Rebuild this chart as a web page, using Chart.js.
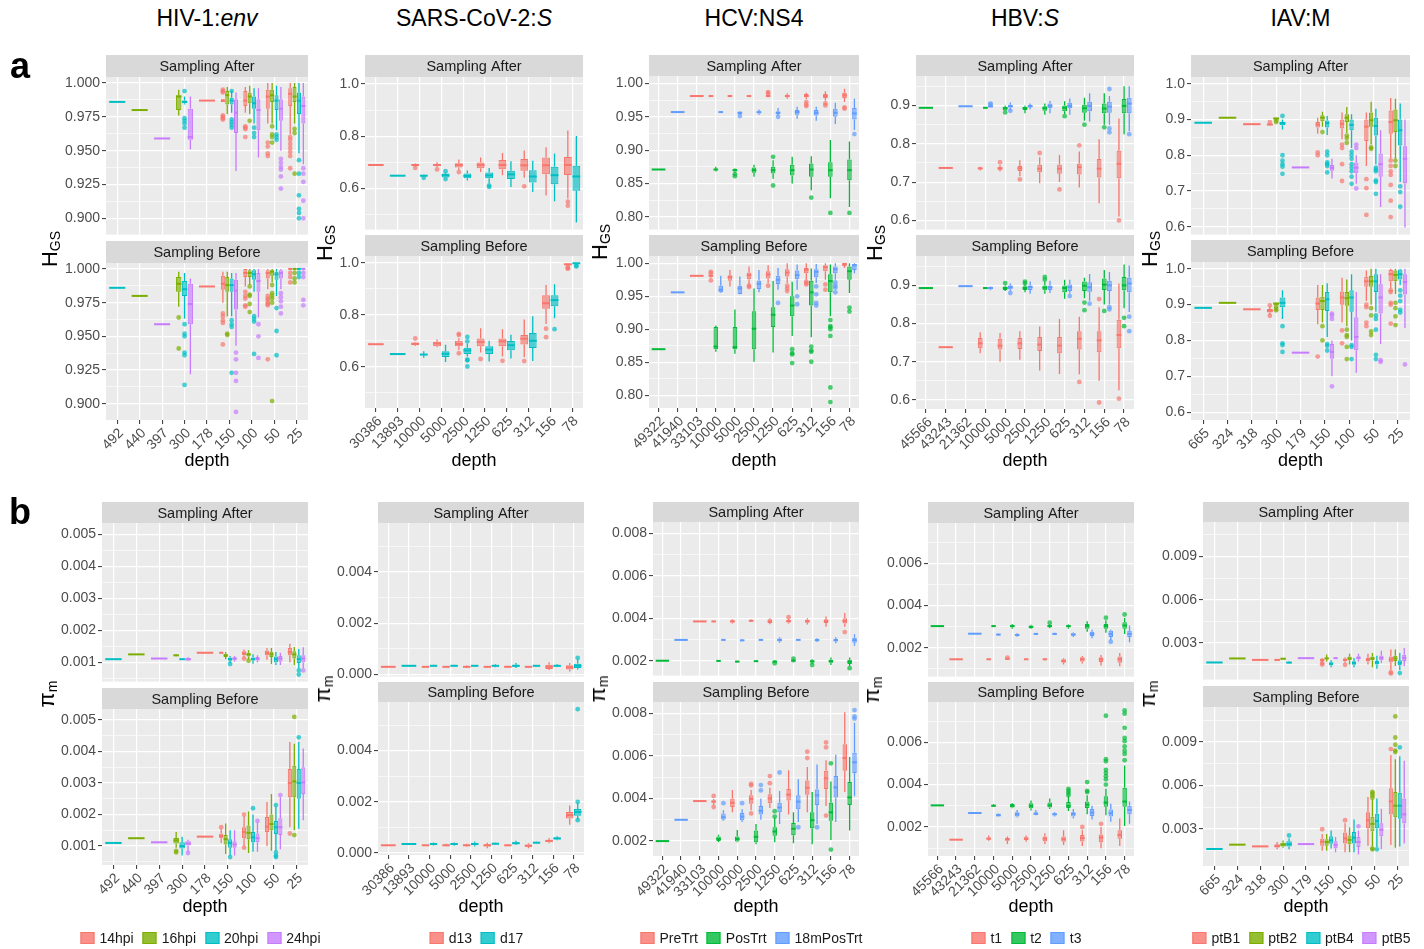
<!DOCTYPE html>
<html>
<head>
<meta charset="utf-8">
<script src="https://cdn.jsdelivr.net/npm/chart.js@4.4.1/dist/chart.umd.min.js"></script>
<style>
  body { margin: 0; background: #fff; }
  #fig { position: relative; width: 1424px; height: 949px; overflow: hidden; font-family: "Liberation Sans", Arial, sans-serif; color: #000; }
  .lbl { position: absolute; white-space: nowrap; transform: translate(-50%, -50%); }
  .ytitle { position: absolute; white-space: nowrap; font-size: 22px; transform: translate(-50%, -50%) rotate(-90deg); }
  .ytitle sub { font-size: 14px; vertical-align: -3px; }
  .legend { position: absolute; top: 938px; transform: translate(-50%, -50%); white-space: nowrap; font-size: 14px; color: #1a1a1a; display: flex; align-items: center; }
  .key { display: inline-block; width: 14px; height: 12px; margin-right: 5px; box-sizing: border-box; }
  .legend .txt { margin-right: 9px; }
</style>
</head>
<body>
<div id="fig"></div>
<script>
// box entries: [lower whisker, q1, median, q3, upper whisker, ...outliers]; [v] = single value

// ---------- HIV-1:env ----------
const hivDepth = ['492', '440', '397', '300', '178', '150', '100', '50', '25'];
const hivGroups = ['14hpi', '16hpi', '20hpi', '24hpi'];
const hivHgsTicks = [0.900, 0.925, 0.950, 0.975, 1.000];
const hivPiTicks = [0.001, 0.002, 0.003, 0.004, 0.005];
const hivHgsAfter = [
  [null, null, null, null, [0.987], [0.986, 0.986, 0.987, 0.988, 0.988, 0.995, 0.994, 0.993, 0.976, 0.975, 0.974, 0.973], [0.978, 0.983, 0.987, 0.994, 0.997, 0.968, 0.967, 0.966, 0.960], [0.970, 0.981, 0.990, 0.995, 1.0, 0.956, 0.953, 0.948, 0.946], [0.962, 0.983, 0.992, 0.996, 1.0, 0.960, 0.958, 0.955, 0.952, 0.949, 0.946, 0.937]],
  [null, [0.980], null, [0.976, 0.980, 0.990, 0.991, 0.995], null, [0.977, 0.984, 0.991, 0.994, 0.997], [0.977, 0.985, 0.990, 0.993, 0.998, 0.972], [0.970, 0.986, 0.991, 0.995, 1.0, 0.968, 0.962, 0.960, 0.956], [0.970, 0.986, 0.990, 0.997, 1.0, 0.966, 0.963, 0.933]],
  [[0.986], null, null, [0.984, 0.985, 0.986, 0.987, 0.990, 0.994, 0.974, 0.972, 0.970, 0.967], null, [0.978, 0.984, 0.987, 0.989, 0.994, 0.994, 0.973, 0.971, 0.969, 0.967], [0.970, 0.981, 0.985, 0.990, 0.996, 0.967, 0.963, 0.960], [0.965, 0.980, 0.987, 0.991, 0.998, 0.962, 0.960, 0.958], [0.948, 0.977, 0.987, 0.993, 1.0, 0.943, 0.933, 0.917, 0.907, 0.904, 0.900]],
  [null, null, [0.959], [0.951, 0.958, 0.960, 0.981, 0.990], null, [0.935, 0.963, 0.978, 0.988, 0.993], [0.945, 0.965, 0.980, 0.988, 0.996], [0.950, 0.972, 0.981, 0.988, 0.997, 0.944, 0.941, 0.938, 0.936, 0.931, 0.922], [0.940, 0.970, 0.983, 0.990, 1.0, 0.937, 0.933, 0.927, 0.913, 0.900]]
];
const hivHgsBefore = [
  [null, null, null, null, [0.987], [0.975, 0.9845, 0.989, 0.995, 0.998, 0.967, 0.965, 0.962, 0.960, 0.944], [0.987, 0.994, 0.997, 1.0, 1.0, 0.983, 0.980, 0.978, 0.973, 0.972], [0.985, 0.993, 0.997, 0.999, 1.0, 0.980, 0.978, 0.977, 0.975, 0.974, 0.973, 0.933], [0.999, 1.0, 1.0, 1.0, 1.0, 0.997, 0.994, 0.990]],
  [null, [0.980], null, [0.972, 0.983, 0.989, 0.994, 0.998, 0.964, 0.941], null, [0.965, 0.983, 0.988, 0.994, 0.998, 0.952, 0.951], [0.988, 0.994, 0.997, 0.999, 1.0, 0.987, 0.981, 0.980, 0.974, 0.968], [0.990, 0.995, 0.998, 0.999, 1.0, 0.988, 0.982, 0.980, 0.978, 0.975, 0.902], [0.999, 1.0, 1.0, 1.0, 1.0, 0.997, 0.993, 0.990]],
  [[0.986], null, null, [0.963, 0.980, 0.985, 0.991, 0.997, 0.959, 0.952, 0.950, 0.938, 0.936, 0.914], null, [0.965, 0.983, 0.988, 0.993, 0.997, 0.962, 0.959, 0.957, 0.923], [0.983, 0.992, 0.996, 0.999, 1.0, 0.965, 0.963, 0.961, 0.937], [0.980, 0.992, 0.996, 0.998, 1.0, 0.971, 0.954, 0.936], [0.999, 1.0, 1.0, 1.0, 1.0, 0.997, 0.994]],
  [null, null, [0.959], [0.922, 0.959, 0.974, 0.989, 0.993], null, [0.943, 0.970, 0.984, 0.992, 0.997, 0.938, 0.933, 0.923, 0.917, 0.894], [0.964, 0.983, 0.991, 0.997, 1.0, 0.959, 0.950, 0.934], [0.985, 0.993, 0.997, 0.999, 1.0, 0.982, 0.979, 0.976, 0.972, 0.967], [0.999, 1.0, 1.0, 1.0, 1.0, 0.997, 0.994, 0.977, 0.973]]
];
const hivPiAfter = [
  [null, null, null, null, [0.00130], [0.00128, 0.00129, 0.00130, 0.00131, 0.00132], [0.00115, 0.00122, 0.00128, 0.00135, 0.00140, 0.00112], [0.00108, 0.00122, 0.00130, 0.00137, 0.00145], [0.00100, 0.00122, 0.00132, 0.00145, 0.00158]],
  [null, [0.00125], null, [0.00119, 0.00120, 0.00122, 0.00124, 0.00125], null, [0.00110, 0.00117, 0.00122, 0.00127, 0.00132], [0.00110, 0.00118, 0.00125, 0.00130, 0.00138, 0.00105], [0.00095, 0.00117, 0.00125, 0.00133, 0.00145], [0.00092, 0.00112, 0.00125, 0.00135, 0.00148]],
  [[0.00110], null, null, [0.00108, 0.00109, 0.00110, 0.00111, 0.00112], null, [0.00098, 0.00105, 0.00110, 0.00115, 0.00120, 0.00095], [0.00096, 0.00106, 0.00110, 0.00115, 0.00125], [0.00092, 0.00100, 0.00110, 0.00118, 0.00132], [0.00080, 0.00098, 0.00110, 0.00122, 0.00142, 0.00075, 0.00062]],
  [null, null, [0.00112], [0.00104, 0.00106, 0.00110, 0.00113, 0.00116], null, [0.00102, 0.00107, 0.00112, 0.00116, 0.00120], [0.00100, 0.00106, 0.00111, 0.00117, 0.00122], [0.00092, 0.00102, 0.00112, 0.00120, 0.00130], [0.00082, 0.00100, 0.00112, 0.00122, 0.00147, 0.00075]]
];
const hivPiBefore = [
  [null, null, null, null, [0.00130], [0.00110, 0.00125, 0.00132, 0.00140, 0.00155, 0.00160], [0.00100, 0.00125, 0.00145, 0.00160, 0.00195, 0.00200, 0.00095], [0.00100, 0.00145, 0.00162, 0.00192, 0.00240], [0.00160, 0.00255, 0.00300, 0.00345, 0.00430, 0.00140]],
  [null, [0.00125], null, [0.00095, 0.00108, 0.00118, 0.00126, 0.00145, 0.00085, 0.00080], null, [0.00075, 0.00105, 0.00122, 0.00135, 0.00172], [0.00078, 0.00122, 0.00142, 0.00165, 0.00210], [0.00085, 0.00150, 0.00170, 0.00200, 0.00265], [0.00150, 0.00255, 0.00305, 0.00355, 0.00425, 0.00510, 0.00135]],
  [[0.00110], null, null, [0.00070, 0.00092, 0.00100, 0.00112, 0.00130], null, [0.00070, 0.00095, 0.00110, 0.00122, 0.00150, 0.00065], [0.00082, 0.00112, 0.00128, 0.00145, 0.00200, 0.00220], [0.00085, 0.00138, 0.00160, 0.00180, 0.00225, 0.00230, 0.00080, 0.00070, 0.00065], [0.00155, 0.00250, 0.00300, 0.00345, 0.00430, 0.00445]],
  [null, null, [0.00112], [0.00082, 0.00102, 0.00108, 0.00115, 0.00120, 0.00078], null, [0.00070, 0.00095, 0.00105, 0.00115, 0.00150], [0.00082, 0.00112, 0.00125, 0.00140, 0.00175, 0.00180], [0.00090, 0.00135, 0.00160, 0.00188, 0.00255, 0.00262], [0.00182, 0.00265, 0.00302, 0.00350, 0.00410]]
];

// ---------- SARS-CoV-2:S ----------
const sarsDepth = ['30386', '13893', '10000', '5000', '2500', '1250', '625', '312', '156', '78'];
const sarsGroups = ['d13', 'd17'];
const sarsHgsTicks = [0.6, 0.8, 1.0];
const sarsPiTicks = [0.000, 0.002, 0.004];
const sarsHgsAfter = [
  [[0.689], null, [0.683, 0.687, 0.689, 0.691, 0.695, 0.678], [0.680, 0.685, 0.689, 0.692, 0.700, 0.672], [0.670, 0.679, 0.689, 0.696, 0.710, 0.662], [0.662, 0.677, 0.689, 0.699, 0.718], [0.650, 0.673, 0.689, 0.708, 0.735], [0.640, 0.667, 0.688, 0.712, 0.745, 0.607], [0.572, 0.654, 0.688, 0.718, 0.757], [0.560, 0.651, 0.689, 0.720, 0.822, 0.548, 0.533]],
  [null, [0.648], [0.644, 0.646, 0.648, 0.650, 0.652, 0.640], [0.640, 0.641, 0.650, 0.656, 0.660, 0.665, 0.635], [0.630, 0.638, 0.647, 0.656, 0.668], [0.618, 0.638, 0.649, 0.660, 0.678, 0.610, 0.605], [0.605, 0.635, 0.653, 0.667, 0.703], [0.585, 0.622, 0.645, 0.669, 0.705], [0.550, 0.615, 0.650, 0.682, 0.733], [0.468, 0.590, 0.645, 0.686, 0.800]]
];
const sarsHgsBefore = [
  [[0.687], null, [0.680, 0.683, 0.688, 0.694, 0.695, 0.709], [0.675, 0.679, 0.690, 0.696, 0.705], [0.665, 0.679, 0.688, 0.700, 0.710, 0.727, 0.722, 0.652], [0.655, 0.679, 0.695, 0.709, 0.748, 0.630], [0.640, 0.679, 0.698, 0.709, 0.745, 0.623], [0.637, 0.686, 0.708, 0.722, 0.782, 0.622], [0.765, 0.824, 0.845, 0.876, 0.915, 0.747, 0.714], [0.990, 0.993, 0.995, 0.997, 0.999, 0.985, 0.980, 0.978]],
  [null, [0.649], [0.635, 0.644, 0.647, 0.650, 0.660], [0.618, 0.638, 0.650, 0.660, 0.685], [0.640, 0.649, 0.663, 0.673, 0.690, 0.715, 0.698, 0.627, 0.625, 0.601], [0.620, 0.649, 0.666, 0.679, 0.700], [0.632, 0.664, 0.683, 0.699, 0.723], [0.622, 0.672, 0.700, 0.730, 0.795], [0.787, 0.833, 0.857, 0.876, 0.918, 0.745], [0.995, 0.997, 0.999, 1.0, 1.0, 0.990, 0.987]]
];
const sarsPiAfter = [
  [[0.00030], null, [0.00028, 0.00029, 0.00030, 0.00031, 0.00032], [0.00028, 0.00029, 0.00030, 0.00031, 0.00032], [0.00025, 0.00028, 0.00030, 0.00032, 0.00035], [0.00027, 0.00029, 0.00030, 0.00031, 0.00033], [0.00026, 0.00028, 0.00030, 0.00032, 0.00034], [0.00027, 0.00029, 0.00030, 0.00031, 0.00033], [0.00018, 0.00022, 0.00030, 0.00038, 0.00048], [0.00012, 0.00020, 0.00028, 0.00036, 0.00045]],
  [null, [0.00034], [0.00031, 0.00032, 0.00034, 0.00036, 0.00038], [0.00031, 0.00032, 0.00034, 0.00036, 0.00038], [0.00031, 0.00032, 0.00034, 0.00035, 0.00037], [0.00028, 0.00031, 0.00034, 0.00037, 0.00040], [0.00025, 0.00030, 0.00034, 0.00038, 0.00045], [0.00031, 0.00032, 0.00034, 0.00035, 0.00037], [0.00029, 0.00031, 0.00034, 0.00036, 0.00040], [0.00020, 0.00025, 0.00034, 0.00042, 0.00060, 0.00065]]
];
const sarsPiBefore = [
  [[0.00030], null, [0.00028, 0.00029, 0.00030, 0.00031, 0.00032], [0.00026, 0.00028, 0.00030, 0.00033, 0.00036], [0.00025, 0.00027, 0.00030, 0.00033, 0.00036], [0.00018, 0.00025, 0.00030, 0.00034, 0.00040], [0.00027, 0.00029, 0.00030, 0.00031, 0.00033], [0.00018, 0.00024, 0.00028, 0.00033, 0.00038], [0.00038, 0.00042, 0.00047, 0.00052, 0.00058], [0.00110, 0.00135, 0.00148, 0.00160, 0.00185]],
  [null, [0.00035], [0.00029, 0.00031, 0.00035, 0.00038, 0.00041], [0.00029, 0.00032, 0.00035, 0.00038, 0.00041], [0.00025, 0.00030, 0.00035, 0.00040, 0.00045], [0.00032, 0.00034, 0.00036, 0.00038, 0.00040], [0.00032, 0.00035, 0.00038, 0.00042, 0.00048], [0.00036, 0.00038, 0.00040, 0.00042, 0.00044], [0.00050, 0.00053, 0.00057, 0.00060, 0.00065], [0.00130, 0.00145, 0.00160, 0.00172, 0.00195, 0.00200, 0.00128, 0.00562]]
];

// ---------- HCV:NS4 ----------
const hcvDepth = ['49322', '41940', '33103', '10000', '5000', '2500', '1250', '625', '312', '156', '78'];
const hcvGroups = ['PreTrt', 'PosTrt', '18mPosTrt'];
const hcvHgsTicks = [0.80, 0.85, 0.90, 0.95, 1.00];
const hcvPiTicks = [0.002, 0.004, 0.006, 0.008];
const hcvHgsAfter = [
  [null, null, [0.981], [0.981], [0.981], [0.981], [0.979, 0.980, 0.981, 0.983, 0.984, 0.987, 0.985], [0.977, 0.979, 0.981, 0.983, 0.985], [0.976, 0.979, 0.981, 0.984, 0.986, 0.972, 0.968, 0.966], [0.974, 0.978, 0.981, 0.984, 0.988, 0.970, 0.967], [0.972, 0.978, 0.982, 0.986, 0.992, 0.964, 0.962]],
  [[0.871], null, null, [0.868, 0.870, 0.871, 0.872, 0.875], [0.866, 0.868, 0.870, 0.872, 0.873, 0.864, 0.861], [0.860, 0.866, 0.870, 0.874, 0.878], [0.857, 0.865, 0.870, 0.875, 0.885, 0.890, 0.847], [0.850, 0.862, 0.870, 0.878, 0.890], [0.840, 0.860, 0.871, 0.880, 0.891, 0.829], [0.828, 0.860, 0.870, 0.882, 0.915, 0.806], [0.815, 0.855, 0.870, 0.886, 0.913, 0.806]],
  [null, [0.957], null, [0.956, 0.956, 0.957, 0.957, 0.958], [0.953, 0.954, 0.956, 0.957, 0.958, 0.951], [0.953, 0.955, 0.957, 0.958, 0.961], [0.952, 0.954, 0.956, 0.958, 0.963, 0.950], [0.947, 0.953, 0.957, 0.960, 0.965], [0.944, 0.952, 0.956, 0.960, 0.965], [0.939, 0.950, 0.956, 0.962, 0.971], [0.930, 0.946, 0.955, 0.963, 0.977, 0.924]]
];
const hcvHgsBefore = [
  [null, null, [0.981], [0.978, 0.980, 0.981, 0.982, 0.983, 0.987, 0.985, 0.974], [0.965, 0.9735, 0.979, 0.982, 0.990], [0.968, 0.976, 0.982, 0.986, 0.995, 0.966, 0.964], [0.970, 0.977, 0.983, 0.988, 0.997, 0.966], [0.970, 0.980, 0.986, 0.991, 1.0, 0.966, 0.962, 0.958], [0.975, 0.985, 0.990, 0.993, 1.0, 0.972, 0.970, 0.968], [0.975, 0.988, 0.994, 0.997, 1.0, 0.968, 0.960], [0.993, 0.996, 0.999, 1.0, 1.0]],
  [[0.870], null, null, [0.866, 0.870, 0.874, 0.9035, 0.906], [0.863, 0.870, 0.873, 0.9035, 0.930], [0.851, 0.870, 0.901, 0.9275, 0.962], [0.865, 0.9035, 0.922, 0.9335, 0.973], [0.890, 0.920, 0.936, 0.950, 0.972, 0.870, 0.864, 0.862, 0.849], [0.888, 0.936, 0.956, 0.9735, 0.992, 0.874, 0.868, 0.866, 0.851], [0.920, 0.956, 0.973, 0.9835, 0.998, 0.914, 0.905, 0.903, 0.900, 0.890, 0.812, 0.790], [0.955, 0.975, 0.988, 0.995, 1.0, 0.933, 0.927]],
  [null, [0.956], null, [0.955, 0.956, 0.960, 0.966, 0.981], [0.953, 0.9535, 0.962, 0.966, 0.980], [0.956, 0.961, 0.969, 0.9735, 0.990], [0.960, 0.9685, 0.975, 0.981, 0.993, 0.940], [0.960, 0.976, 0.982, 0.989, 0.998, 0.950, 0.938], [0.970, 0.979, 0.987, 0.991, 0.999, 0.965, 0.953, 0.940, 0.936], [0.975, 0.985, 0.991, 0.995, 1.0, 0.971, 0.966, 0.963, 0.956], [0.985, 0.990, 0.997, 0.999, 1.0]]
];
const hcvPiAfter = [
  [null, null, [0.00385], [0.00383, 0.00384, 0.00385, 0.00386, 0.00387], [0.00375, 0.00380, 0.00385, 0.00390, 0.00395], [0.00382, 0.00385, 0.00388, 0.00392, 0.00394], [0.00372, 0.00378, 0.00385, 0.00395, 0.00400], [0.00375, 0.00380, 0.00386, 0.00392, 0.00398, 0.00405], [0.00370, 0.00379, 0.00386, 0.00393, 0.00400], [0.00360, 0.00378, 0.00386, 0.00395, 0.00408], [0.00360, 0.00375, 0.00387, 0.00400, 0.00425, 0.00335]],
  [[0.00200], null, null, [0.00197, 0.00198, 0.00199, 0.00200, 0.00201], [0.00192, 0.00194, 0.00196, 0.00198, 0.00200], [0.00196, 0.00197, 0.00198, 0.00199, 0.00200], [0.00190, 0.00192, 0.00196, 0.00200, 0.00203, 0.00188], [0.00192, 0.00196, 0.00200, 0.00205, 0.00208, 0.00210], [0.00185, 0.00192, 0.00197, 0.00202, 0.00207, 0.00180], [0.00180, 0.00190, 0.00198, 0.00205, 0.00215], [0.00175, 0.00185, 0.00195, 0.00205, 0.00215, 0.00165]],
  [null, [0.00298], null, [0.00296, 0.00297, 0.00298, 0.00299, 0.00300], [0.00292, 0.00294, 0.00296, 0.00298, 0.00300], [0.00296, 0.00297, 0.00298, 0.00299, 0.00300], [0.00285, 0.00290, 0.00298, 0.00305, 0.00310], [0.00294, 0.00296, 0.00298, 0.00300, 0.00302], [0.00288, 0.00292, 0.00297, 0.00302, 0.00306], [0.00282, 0.00290, 0.00297, 0.00302, 0.00310], [0.00270, 0.00285, 0.00297, 0.00308, 0.00325]]
];
const hcvPiBefore = [
  [null, null, [0.00388], [0.00370, 0.00380, 0.00386, 0.00390, 0.00398, 0.00412, 0.00360], [0.00335, 0.00360, 0.00380, 0.00400, 0.00440], [0.00345, 0.00375, 0.00398, 0.00415, 0.00440, 0.00468, 0.00462, 0.00330], [0.00355, 0.00378, 0.00400, 0.00420, 0.00450, 0.00505, 0.00472], [0.00325, 0.00390, 0.00418, 0.00445, 0.00532], [0.00335, 0.00418, 0.00450, 0.00485, 0.00548, 0.00620, 0.00590], [0.00365, 0.00445, 0.00495, 0.00530, 0.00580, 0.00663, 0.00640, 0.00320], [0.00430, 0.00530, 0.00590, 0.00655, 0.00805]],
  [[0.00200], null, null, [0.00195, 0.00200, 0.00210, 0.00222, 0.00230], [0.00195, 0.00198, 0.00210, 0.00222, 0.00252], [0.00185, 0.00195, 0.00220, 0.00250, 0.00280], [0.00195, 0.00225, 0.00245, 0.00265, 0.00310, 0.00340, 0.00315], [0.00190, 0.00228, 0.00258, 0.00285, 0.00335], [0.00185, 0.00260, 0.00298, 0.00335, 0.00430], [0.00205, 0.00295, 0.00335, 0.00380, 0.00480, 0.00565, 0.00160], [0.00250, 0.00370, 0.00405, 0.00478, 0.00595]],
  [null, [0.00300], null, [0.00295, 0.00300, 0.00312, 0.00330, 0.00345, 0.00378], [0.00290, 0.00298, 0.00315, 0.00332, 0.00350, 0.00378], [0.00300, 0.00325, 0.00342, 0.00365, 0.00400, 0.00463, 0.00438], [0.00280, 0.00335, 0.00358, 0.00380, 0.00435, 0.00522], [0.00290, 0.00350, 0.00385, 0.00415, 0.00490, 0.00265], [0.00280, 0.00370, 0.00415, 0.00442, 0.00560, 0.00265], [0.00290, 0.00405, 0.00452, 0.00505, 0.00605], [0.00410, 0.00520, 0.00570, 0.00615, 0.00755, 0.00815, 0.00785, 0.00775]]
];

// ---------- HBV:S ----------
const hbvDepth = ['45566', '43243', '21362', '10000', '5000', '2500', '1250', '625', '312', '156', '78'];
const hbvGroups = ['t1', 't2', 't3'];
const hbvHgsTicks = [0.6, 0.7, 0.8, 0.9];
const hbvPiTicks = [0.002, 0.004, 0.006];
const hbvHgsAfter = [
  [null, [0.737], null, [0.730, 0.733, 0.736, 0.738, 0.740], [0.728, 0.731, 0.736, 0.740, 0.745, 0.752], [0.715, 0.729, 0.736, 0.742, 0.757, 0.707], [0.697, 0.726, 0.735, 0.745, 0.765, 0.776], [0.700, 0.722, 0.735, 0.745, 0.771, 0.681], [0.686, 0.720, 0.739, 0.748, 0.780, 0.796], [0.645, 0.712, 0.735, 0.760, 0.812], [0.610, 0.710, 0.748, 0.782, 0.866, 0.600]],
  [[0.894], null, null, [0.892, 0.893, 0.894, 0.895, 0.896], [0.886, 0.887, 0.893, 0.897, 0.900, 0.882], [0.880, 0.888, 0.893, 0.897, 0.900], [0.876, 0.886, 0.893, 0.898, 0.905], [0.878, 0.885, 0.894, 0.900, 0.911, 0.872], [0.860, 0.881, 0.893, 0.902, 0.920, 0.850], [0.850, 0.880, 0.892, 0.905, 0.932, 0.843], [0.825, 0.880, 0.899, 0.917, 0.950]],
  [null, null, [0.898], [0.894, 0.895, 0.898, 0.900, 0.902, 0.905, 0.903], [0.888, 0.895, 0.898, 0.902, 0.908, 0.886], [0.890, 0.896, 0.898, 0.901, 0.905], [0.880, 0.893, 0.899, 0.905, 0.912], [0.876, 0.893, 0.899, 0.907, 0.918], [0.858, 0.885, 0.899, 0.910, 0.932], [0.850, 0.881, 0.897, 0.910, 0.925, 0.943, 0.840, 0.830], [0.833, 0.880, 0.905, 0.920, 0.950, 0.825]]
];
const hbvHgsBefore = [
  [null, [0.738], null, [0.722, 0.735, 0.748, 0.762, 0.777], [0.700, 0.732, 0.742, 0.760, 0.775], [0.705, 0.733, 0.748, 0.762, 0.780], [0.677, 0.728, 0.745, 0.765, 0.792], [0.668, 0.722, 0.742, 0.765, 0.812], [0.667, 0.732, 0.760, 0.780, 0.818, 0.647], [0.650, 0.725, 0.756, 0.780, 0.843, 0.864, 0.593], [0.625, 0.735, 0.770, 0.810, 0.905, 0.603]],
  [[0.893], null, null, [0.891, 0.892, 0.893, 0.894, 0.895], [0.885, 0.888, 0.893, 0.897, 0.900, 0.906], [0.882, 0.888, 0.893, 0.898, 0.902, 0.910, 0.905], [0.878, 0.887, 0.894, 0.900, 0.910, 0.922, 0.915], [0.865, 0.882, 0.893, 0.900, 0.915], [0.866, 0.885, 0.899, 0.910, 0.920, 0.855, 0.835], [0.850, 0.888, 0.902, 0.918, 0.940, 0.833], [0.840, 0.887, 0.900, 0.922, 0.955, 0.815, 0.793]],
  [null, null, [0.898], [0.887, 0.890, 0.893, 0.896, 0.897], [0.885, 0.890, 0.896, 0.900, 0.905, 0.880], [0.878, 0.888, 0.896, 0.900, 0.910], [0.880, 0.888, 0.895, 0.900, 0.912], [0.878, 0.885, 0.895, 0.902, 0.915, 0.872], [0.860, 0.883, 0.895, 0.908, 0.930, 0.852], [0.850, 0.885, 0.900, 0.912, 0.935, 0.843, 0.837], [0.830, 0.882, 0.905, 0.920, 0.952, 0.818, 0.780]]
];
const hbvPiAfter = [
  [null, [0.00145], null, [0.00143, 0.00144, 0.00145, 0.00146, 0.00147], [0.00142, 0.00144, 0.00147, 0.00149, 0.00150, 0.00153], [0.00142, 0.00144, 0.00145, 0.00146, 0.00148], [0.00140, 0.00143, 0.00145, 0.00147, 0.00149], [0.00120, 0.00128, 0.00137, 0.00145, 0.00150], [0.00125, 0.00135, 0.00145, 0.00155, 0.00160], [0.00115, 0.00132, 0.00145, 0.00155, 0.00165], [0.00112, 0.00128, 0.00145, 0.00158, 0.00175]],
  [[0.00302], null, null, [0.00300, 0.00301, 0.00302, 0.00303, 0.00304], [0.00290, 0.00296, 0.00302, 0.00308, 0.00312], [0.00288, 0.00292, 0.00298, 0.00305, 0.00308], [0.00292, 0.00298, 0.00302, 0.00308, 0.00312, 0.00318], [0.00290, 0.00296, 0.00302, 0.00306, 0.00310], [0.00275, 0.00290, 0.00302, 0.00312, 0.00325], [0.00270, 0.00290, 0.00302, 0.00312, 0.00330, 0.00342], [0.00265, 0.00290, 0.00305, 0.00320, 0.00340, 0.00357]],
  [null, null, [0.00266], [0.00258, 0.00260, 0.00262, 0.00264, 0.00266], [0.00252, 0.00255, 0.00260, 0.00265, 0.00268], [0.00262, 0.00264, 0.00265, 0.00266, 0.00268], [0.00260, 0.00263, 0.00265, 0.00267, 0.00270], [0.00250, 0.00256, 0.00262, 0.00268, 0.00272], [0.00245, 0.00255, 0.00265, 0.00275, 0.00285], [0.00235, 0.00250, 0.00265, 0.00280, 0.00285, 0.00228], [0.00225, 0.00250, 0.00265, 0.00280, 0.00305]]
];
const hbvPiBefore = [
  [null, [0.00140], null, [0.00135, 0.00140, 0.00145, 0.00150, 0.00160], [0.00120, 0.00135, 0.00142, 0.00148, 0.00155], [0.00130, 0.00138, 0.00145, 0.00152, 0.00160], [0.00120, 0.00133, 0.00145, 0.00155, 0.00170], [0.00115, 0.00130, 0.00142, 0.00155, 0.00185], [0.00110, 0.00132, 0.00148, 0.00162, 0.00185, 0.00200], [0.00100, 0.00128, 0.00150, 0.00165, 0.00200, 0.00215], [0.00110, 0.00145, 0.00162, 0.00185, 0.00240]],
  [[0.00302], null, null, [0.00295, 0.00297, 0.00300, 0.00305, 0.00308], [0.00288, 0.00292, 0.00300, 0.00308, 0.00312], [0.00278, 0.00288, 0.00300, 0.00312, 0.00325], [0.00285, 0.00292, 0.00302, 0.00315, 0.00335], [0.00275, 0.00290, 0.00300, 0.00318, 0.00345, 0.00380, 0.00370, 0.00360, 0.00350], [0.00260, 0.00290, 0.00305, 0.00320, 0.00350, 0.00412, 0.00370, 0.00365], [0.00255, 0.00295, 0.00315, 0.00345, 0.00380, 0.00725, 0.00520, 0.00510, 0.00470, 0.00455, 0.00440, 0.00425, 0.00400], [0.00205, 0.00295, 0.00320, 0.00385, 0.00490, 0.00750, 0.00735, 0.00668, 0.00620, 0.00605, 0.00580, 0.00560, 0.00545, 0.00515]],
  [null, null, [0.00266], [0.00248, 0.00250, 0.00256, 0.00262, 0.00265], [0.00245, 0.00250, 0.00260, 0.00270, 0.00280], [0.00255, 0.00258, 0.00262, 0.00270, 0.00280], [0.00250, 0.00255, 0.00260, 0.00265, 0.00270], [0.00240, 0.00250, 0.00262, 0.00270, 0.00285], [0.00235, 0.00252, 0.00268, 0.00285, 0.00300], [0.00225, 0.00250, 0.00265, 0.00282, 0.00310], [0.00215, 0.00260, 0.00280, 0.00300, 0.00320]]
];

// ---------- IAV:M ----------
const iavDepth = ['665', '324', '318', '300', '179', '150', '100', '50', '25'];
const iavGroups = ['ptB1', 'ptB2', 'ptB4', 'ptB5'];
const iavHgsTicks = [0.6, 0.7, 0.8, 0.9, 1.0];
const iavPiTicks = [0.003, 0.006, 0.009];
const iavHgsAfter = [
  [null, null, [0.887], [0.883, 0.884, 0.886, 0.888, 0.890, 0.893], null, [0.860, 0.878, 0.886, 0.893, 0.905, 0.808, 0.800], [0.845, 0.875, 0.888, 0.900, 0.920, 0.830, 0.820, 0.775, 0.728], [0.770, 0.840, 0.880, 0.900, 0.920, 0.733, 0.708, 0.633], [0.790, 0.860, 0.893, 0.925, 0.960, 0.785, 0.770, 0.755, 0.745, 0.717, 0.673, 0.627]],
  [null, [0.905], null, [0.899, 0.900, 0.903, 0.905, 0.906, 0.897, 0.893], null, [0.880, 0.895, 0.905, 0.912, 0.922, 0.865], [0.862, 0.893, 0.905, 0.915, 0.935, 0.855, 0.848, 0.835], [0.830, 0.880, 0.898, 0.920, 0.950, 0.822, 0.818], [0.790, 0.865, 0.898, 0.928, 0.958, 0.785, 0.770]],
  [[0.891], null, null, [0.872, 0.884, 0.890, 0.893, 0.900, 0.910, 0.800, 0.785, 0.775, 0.768, 0.748], null, [0.857, 0.878, 0.890, 0.897, 0.910, 0.810, 0.800, 0.780, 0.775, 0.770, 0.752], [0.820, 0.870, 0.885, 0.900, 0.915, 0.810, 0.800, 0.790, 0.775, 0.765, 0.755, 0.740, 0.720], [0.775, 0.855, 0.882, 0.905, 0.930, 0.765, 0.760, 0.755, 0.730, 0.725, 0.692], [0.725, 0.827, 0.870, 0.900, 0.945, 0.713, 0.697, 0.656]],
  [null, null, null, null, [0.766], [0.735, 0.757, 0.765, 0.773, 0.790], [0.720, 0.750, 0.765, 0.780, 0.800, 0.830, 0.820, 0.707], [0.655, 0.740, 0.775, 0.805, 0.870], [0.598, 0.722, 0.790, 0.825, 0.900]]
];
const iavHgsBefore = [
  [null, null, [0.887], [0.872, 0.878, 0.883, 0.888, 0.895, 0.898, 0.869], null, [0.845, 0.885, 0.903, 0.920, 0.955, 0.755], [0.850, 0.900, 0.920, 0.937, 0.975, 0.828, 0.792], [0.910, 0.950, 0.965, 0.978, 0.995, 0.900, 0.893, 0.850, 0.840], [0.945, 0.965, 0.985, 0.997, 1.0, 0.940, 0.935, 0.905, 0.900, 0.847]],
  [null, [0.905], null, [0.898, 0.900, 0.903, 0.905, 0.906, 0.895, 0.888, 0.884], null, [0.850, 0.885, 0.910, 0.922, 0.955, 0.840, 0.800], [0.840, 0.897, 0.918, 0.935, 0.970, 0.830, 0.815, 0.810, 0.782, 0.748], [0.900, 0.950, 0.965, 0.980, 1.0, 0.890, 0.870, 0.825, 0.815], [0.930, 0.965, 0.983, 0.995, 1.0, 0.905, 0.890, 0.867, 0.843]],
  [[0.891], null, null, [0.860, 0.893, 0.905, 0.920, 0.940, 0.840, 0.792, 0.787, 0.768], null, [0.810, 0.882, 0.915, 0.935, 0.960, 0.790, 0.785, 0.772], [0.800, 0.880, 0.920, 0.940, 0.985, 0.787, 0.782, 0.748], [0.880, 0.935, 0.965, 0.985, 1.0, 0.870, 0.860, 0.830, 0.760, 0.748], [0.955, 0.970, 0.985, 0.998, 1.0, 0.940, 0.925, 0.910, 0.885, 0.878]],
  [null, null, null, null, [0.766], [0.700, 0.749, 0.768, 0.790, 0.800, 0.875, 0.870, 0.860, 0.672], [0.710, 0.773, 0.810, 0.865, 0.935], [0.790, 0.875, 0.920, 0.957, 0.985, 0.745, 0.740], [0.835, 0.928, 0.963, 0.985, 1.0, 0.733]]
];
const iavPiAfter = [
  [null, null, [0.00182], [0.00176, 0.00178, 0.00182, 0.00184, 0.00186], null, [0.00165, 0.00175, 0.00182, 0.00190, 0.00195, 0.00160, 0.00150], [0.00160, 0.00172, 0.00182, 0.00192, 0.00200, 0.00148], [0.00150, 0.00170, 0.00182, 0.00195, 0.00225], [0.00110, 0.00165, 0.00185, 0.00205, 0.00255, 0.00095, 0.00088]],
  [null, [0.00192], null, [0.00183, 0.00185, 0.00190, 0.00192, 0.00194], null, [0.00170, 0.00185, 0.00192, 0.00200, 0.00220], [0.00150, 0.00180, 0.00192, 0.00205, 0.00225], [0.00130, 0.00180, 0.00192, 0.00205, 0.00230], [0.00140, 0.00175, 0.00192, 0.00210, 0.00255]],
  [[0.00164], null, null, [0.00156, 0.00158, 0.00163, 0.00168, 0.00170], null, [0.00130, 0.00145, 0.00155, 0.00165, 0.00180], [0.00130, 0.00148, 0.00160, 0.00172, 0.00195], [0.00120, 0.00150, 0.00162, 0.00175, 0.00210], [0.00110, 0.00145, 0.00162, 0.00180, 0.00230, 0.00090]],
  [null, null, null, null, [0.00194], [0.00188, 0.00190, 0.00194, 0.00198, 0.00200], [0.00170, 0.00185, 0.00196, 0.00208, 0.00225], [0.00160, 0.00180, 0.00196, 0.00212, 0.00245], [0.00140, 0.00175, 0.00196, 0.00218, 0.00265]]
];
const iavPiBefore = [
  [null, null, [0.00180], [0.00160, 0.00172, 0.00182, 0.00195, 0.00210], null, [0.00150, 0.00185, 0.00212, 0.00235, 0.00265, 0.00298], [0.00140, 0.00200, 0.00235, 0.00275, 0.00340, 0.00360], [0.00185, 0.00305, 0.00360, 0.00415, 0.00520], [0.00190, 0.00400, 0.00490, 0.00580, 0.00810, 0.00850]],
  [null, [0.00192], null, [0.00170, 0.00180, 0.00192, 0.00205, 0.00220], null, [0.00150, 0.00185, 0.00210, 0.00230, 0.00265], [0.00140, 0.00195, 0.00225, 0.00255, 0.00310], [0.00180, 0.00285, 0.00335, 0.00385, 0.00505, 0.00555, 0.00545, 0.00530, 0.00515, 0.00165, 0.00160], [0.00170, 0.00380, 0.00460, 0.00555, 0.00780, 0.01075, 0.00930, 0.00880, 0.00840, 0.00830]],
  [[0.00162], null, null, [0.00160, 0.00180, 0.00195, 0.00215, 0.00235, 0.00255], null, [0.00165, 0.00198, 0.00222, 0.00250, 0.00290], [0.00140, 0.00200, 0.00240, 0.00280, 0.00365], [0.00175, 0.00305, 0.00355, 0.00405, 0.00510, 0.00160], [0.00180, 0.00370, 0.00460, 0.00550, 0.00800, 0.00862]],
  [null, null, null, null, [0.00196], [0.00140, 0.00168, 0.00190, 0.00215, 0.00245], [0.00125, 0.00175, 0.00210, 0.00245, 0.00290, 0.00318], [0.00160, 0.00250, 0.00295, 0.00340, 0.00440], [0.00200, 0.00340, 0.00400, 0.00510, 0.00770]]
];

// ggplot hue palettes
const pal2 = ['#F8766D', '#00BFC4'];
const pal3 = ['#F8766D', '#00BA38', '#619CFF'];
const pal4 = ['#F8766D', '#7CAE00', '#00BFC4', '#C77CFF'];

const viruses = [
  { title: 'HIV-1:<i>env</i>', depth: hivDepth, groups: hivGroups, colors: pal4,
    hgs: [hivHgsAfter, hivHgsBefore], hgsTicks: hivHgsTicks, hgsDec: 3, hgsLim: [0.888, 1.0044],
    pi: [hivPiAfter, hivPiBefore], piTicks: hivPiTicks, piDec: 3, piLim: [0.00040, 0.00535] },
  { title: 'SARS-CoV-2:<i>S</i>', depth: sarsDepth, groups: sarsGroups, colors: pal2,
    hgs: [sarsHgsAfter, sarsHgsBefore], hgsTicks: sarsHgsTicks, hgsDec: 1, hgsLim: [0.441, 1.027],
    pi: [sarsPiAfter, sarsPiBefore], piTicks: sarsPiTicks, piDec: 3, piLim: [-0.00008, 0.0059] },
  { title: 'HCV:NS4', depth: hcvDepth, groups: hcvGroups, colors: pal3,
    hgs: [hcvHgsAfter, hcvHgsBefore], hgsTicks: hcvHgsTicks, hgsDec: 2, hgsLim: [0.781, 1.011],
    pi: [hcvPiAfter, hcvPiBefore], piTicks: hcvPiTicks, piDec: 3, piLim: [0.0013, 0.00853] },
  { title: 'HBV:<i>S</i>', depth: hbvDepth, groups: hbvGroups, colors: pal3,
    hgs: [hbvHgsAfter, hbvHgsBefore], hgsTicks: hbvHgsTicks, hgsDec: 1, hgsLim: [0.576, 0.977],
    pi: [hbvPiAfter, hbvPiBefore], piTicks: hbvPiTicks, piDec: 3, piLim: [0.00063, 0.0079] },
  { title: 'IAV:M', depth: iavDepth, groups: iavGroups, colors: pal4,
    hgs: [iavHgsAfter, iavHgsBefore], hgsTicks: iavHgsTicks, hgsDec: 1, hgsLim: [0.578, 1.019],
    pi: [iavPiAfter, iavPiBefore], piTicks: iavPiTicks, piDec: 3, piLim: [0.00045, 0.0114] }
];

// panel geometry: [left, right, After strip top, After top, After bottom, Before strip top, Before top, Before bottom]
const geoA = [
  [106, 308, 55, 77, 235, 241, 263, 420],
  [365, 583, 55, 77, 230, 235, 256, 408],
  [649, 859, 55, 76, 230, 235, 256, 408],
  [916, 1134, 55, 76, 230, 235, 256, 409],
  [1191, 1410, 55, 77, 235, 240, 262, 420]
];
const geoB = [
  [102, 308, 502, 523, 682, 688, 709, 865],
  [378, 584, 502, 523, 677, 682, 702, 855],
  [653, 859, 502, 522, 676, 682, 702, 856],
  [928, 1134, 502, 523, 677, 682, 702, 856],
  [1203, 1409, 502, 522, 680, 686, 707, 866]
];
const yTitleX = [[50, 325, 600, 875, 1150], [47, 323, 598, 872, 1148]];
const depthY = [461, 907];

const FONT = '"Liberation Sans", Arial, sans-serif';
Chart.defaults.font.family = FONT;

function rgba(hex, a) {
  const n = parseInt(hex.slice(1), 16);
  return `rgba(${(n >> 16) & 255},${(n >> 8) & 255},${n & 255},${a})`;
}
function five(b) {
  return b.length === 1 ? [b[0], b[0], b[0], b[0], b[0]] : b.slice(0, 5);
}

const facetPlugin = {
  id: 'facet',
  beforeDraw(chart, args, opts) {
    const { ctx, chartArea: a } = chart;
    ctx.save();
    ctx.fillStyle = '#EBEBEB';
    ctx.fillRect(a.left, a.top, a.right - a.left, a.bottom - a.top);
    ctx.fillStyle = '#D9D9D9';
    ctx.fillRect(a.left, 0, a.right - a.left, opts.stripH);
    ctx.fillStyle = '#1A1A1A';
    ctx.font = '14.5px ' + FONT;
    ctx.textAlign = 'center';
    ctx.textBaseline = 'middle';
    ctx.fillText(opts.strip, (a.left + a.right) / 2, opts.stripH / 2 + 1);
    ctx.restore();
  },
  afterDatasetsDraw(chart) {
    const { ctx } = chart;
    const y = chart.scales.y;
    ctx.save();
    chart.data.datasets.forEach((ds, i) => {
      const meta = chart.getDatasetMeta(i);
      ds.boxes.forEach((b, j) => {
        if (!b) return;
        const [lo, q1, med, q3, hi] = five(b);
        const bar = meta.data[j];
        const x = bar.x, w = bar.width;
        ctx.strokeStyle = ds.borderColor;
        ctx.lineWidth = 1.3;
        ctx.beginPath();
        ctx.moveTo(x, y.getPixelForValue(hi));
        ctx.lineTo(x, y.getPixelForValue(q3));
        ctx.moveTo(x, y.getPixelForValue(q1));
        ctx.lineTo(x, y.getPixelForValue(lo));
        ctx.stroke();
        const ym = y.getPixelForValue(med);
        ctx.lineWidth = 2;
        ctx.beginPath();
        ctx.moveTo(x - w / 2, ym);
        ctx.lineTo(x + w / 2, ym);
        ctx.stroke();
        ctx.fillStyle = rgba(ds.baseColor, 0.7);
        b.slice(5).forEach(v => {
          ctx.beginPath();
          ctx.arc(x, y.getPixelForValue(v), 2.4, 0, 2 * Math.PI);
          ctx.fill();
        });
      });
    });
    ctx.restore();
  }
};

const fig = document.getElementById('fig');

function addLabel(html, cls, x, y, style) {
  const d = document.createElement('div');
  d.className = cls;
  d.innerHTML = html;
  d.style.cssText += `left:${x}px;top:${y}px;` + (style || '');
  fig.appendChild(d);
}

function tickList(majors, lim) {
  const step = majors[1] - majors[0];
  const list = majors.map(v => ({ value: v, minorTick: false }));
  const mids = [majors[0] - step / 2].concat(majors.map(v => v + step / 2));
  mids.forEach(v => { if (v > lim[0] && v < lim[1]) list.push({ value: v, minorTick: true }); });
  return list.filter(t => t.value >= lim[0] && t.value <= lim[1]).sort((a, b) => a.value - b.value);
}

function facet(v, rows, ticks, dec, lim, g, strip, isBottom, titleY) {
  const [pl, pr, st, pt, pb] = g;
  const yW = 60, padR = 12;
  const xh = isBottom ? Math.round(titleY + 11 - pb) : 0;
  const padB = isBottom ? 0 : 10;
  const w = yW + (pr - pl) + padR;
  const h = (pb - st) + xh + padB;
  const c = document.createElement('canvas');
  c.width = w; c.height = h;
  c.style.cssText = `position:absolute;left:${pl - yW}px;top:${st}px;width:${w}px;height:${h}px`;
  fig.appendChild(c);
  const tl = tickList(ticks, lim);

  new Chart(c, {
    type: 'bar',
    data: {
      labels: v.depth,
      datasets: v.groups.map((name, gi) => ({
        label: name,
        data: rows[gi].map(b => b ? [five(b)[1], five(b)[3]] : null),
        boxes: rows[gi],
        baseColor: v.colors[gi],
        backgroundColor: rgba(v.colors[gi], 0.65),
        borderColor: v.colors[gi],
        borderWidth: 1,
        borderSkipped: false,
        skipNull: true,
        categoryPercentage: 0.78,
        barPercentage: 0.92
      }))
    },
    options: {
      responsive: false,
      animation: false,
      devicePixelRatio: 1,
      layout: { padding: { top: pt - st, right: padR, bottom: padB, left: 0 } },
      plugins: {
        legend: { display: false },
        tooltip: { enabled: false },
        facet: { strip: strip, stripH: pt - st }
      },
      scales: {
        x: {
          offset: true,
          border: { display: false },
          grid: { offset: false, color: '#FFFFFF', lineWidth: 1.2, drawTicks: isBottom, tickLength: 4, tickColor: '#333333', tickWidth: 1 },
          ticks: { display: isBottom, autoSkip: false, maxRotation: 45, minRotation: 45, labelOffset: 4, color: '#4D4D4D', font: { size: 14 }, padding: 1 },
          title: { display: isBottom, text: 'depth', color: '#000000', font: { size: 18 }, padding: 0 },
          afterFit: s => { s.height = xh; }
        },
        y: {
          min: lim[0],
          max: lim[1],
          border: { display: false },
          afterFit: s => { s.width = yW; },
          afterBuildTicks: s => { s.ticks = tl.map(t => ({ value: t.value, minorTick: t.minorTick })); },
          grid: {
            color: '#FFFFFF',
            lineWidth: ctx => (ctx.tick && ctx.tick.minorTick) ? 0.6 : 1.2,
            tickLength: 4,
            tickWidth: 1,
            tickColor: ctx => (ctx.tick && ctx.tick.minorTick) ? 'rgba(0,0,0,0)' : '#333333'
          },
          ticks: {
            autoSkip: false,
            color: '#4D4D4D',
            font: { size: 14 },
            padding: 2,
            callback: (val, i, arr) => arr[i].minorTick ? '' : Number(val).toFixed(dec)
          }
        }
      }
    },
    plugins: [facetPlugin]
  });
}

viruses.forEach((v, k) => {
  const ga = geoA[k], gb = geoB[k];
  // row a: H_GS
  facet(v, v.hgs[0], v.hgsTicks, v.hgsDec, v.hgsLim, [ga[0], ga[1], ga[2], ga[3], ga[4]], 'Sampling After', false);
  facet(v, v.hgs[1], v.hgsTicks, v.hgsDec, v.hgsLim, [ga[0], ga[1], ga[5], ga[6], ga[7]], 'Sampling Before', true, depthY[0]);
  // row b: pi_m
  facet(v, v.pi[0], v.piTicks, v.piDec, v.piLim, [gb[0], gb[1], gb[2], gb[3], gb[4]], 'Sampling After', false);
  facet(v, v.pi[1], v.piTicks, v.piDec, v.piLim, [gb[0], gb[1], gb[5], gb[6], gb[7]], 'Sampling Before', true, depthY[1]);

  addLabel(v.title, 'lbl', (ga[0] + ga[1]) / 2, 18, 'font-size:23px;');
  addLabel('H<sub>GS</sub>', 'ytitle', yTitleX[0][k], (ga[3] + ga[7]) / 2);
  addLabel('&pi;<sub>m</sub>', 'ytitle', yTitleX[1][k], (gb[3] + gb[7]) / 2);

  const lg = document.createElement('div');
  lg.className = 'legend';
  lg.style.left = ((gb[0] + gb[1]) / 2) + 'px';
  lg.innerHTML = v.groups.map((name, gi) =>
    `<span class="key" style="background:${rgba(v.colors[gi], 0.8)};border:1px solid ${v.colors[gi]}"></span><span class="txt">${name}</span>`
  ).join('');
  fig.appendChild(lg);
});

addLabel('a', 'lbl', 20, 66, 'font-size:36px;font-weight:bold;');
addLabel('b', 'lbl', 20, 512, 'font-size:36px;font-weight:bold;');
</script>
</body>
</html>
